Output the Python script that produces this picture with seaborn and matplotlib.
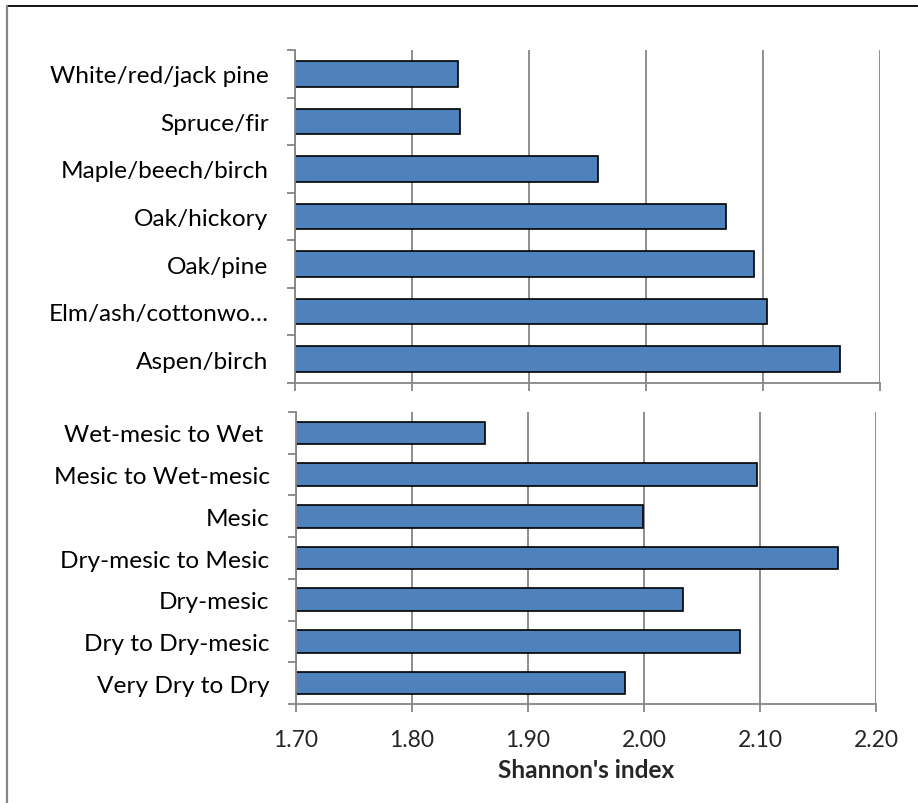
import matplotlib
matplotlib.use('Agg')
import matplotlib.pyplot as plt
from matplotlib.lines import Line2D
import seaborn as sns

# forest types (top panel), listed top to bottom
tipos_floresta = ['White/red/jack pine', 'Spruce/fir', 'Maple/beech/birch', 'Oak/hickory',
                  'Oak/pine', 'Elm/ash/cottonwo\u2026', 'Aspen/birch']
shannon_floresta = [1.839, 1.841, 1.959, 2.068, 2.092, 2.103, 2.166]

# moisture classes (bottom panel), listed top to bottom
umidade = ['Wet-mesic to Wet ', 'Mesic to Wet-mesic', 'Mesic', 'Dry-mesic to Mesic',
           'Dry-mesic', 'Dry to Dry-mesic', 'Very Dry to Dry']
shannon_umidade = [1.863, 2.097, 1.999, 2.167, 2.034, 2.083, 1.984]

x_ticks = [1.70, 1.80, 1.90, 2.00, 2.10, 2.20]

sns.set_style('white')
plt.rcParams['font.family'] = ['Lato', 'DejaVu Sans']

cinza = '#868686'
azul = '#4F81BD'
W, H = 918, 804

fig = plt.figure(figsize=(W / 100, H / 100), dpi=100)

def painel(ax, cats, vals, mostrar_labels):
    sns.barplot(x=vals, y=cats, ax=ax, color=azul, saturation=1, edgecolor='black',
                linewidth=1.2, width=0.54, orient='h')
    ax.set_xlim(1.70, 2.20)
    ax.set_ylim(len(cats) - 0.5, -0.5)
    ax.set_xticks(x_ticks)
    ax.set_xticklabels([f'{t:.2f}' for t in x_ticks])
    ax.set_yticks(range(len(cats)))
    ax.set_yticklabels(cats)
    ax.set_yticks([i - 0.5 for i in range(len(cats) + 1)], minor=True)
    ax.tick_params(axis='y', which='major', length=0, pad=19, labelsize=17.6, colors='black')
    ax.tick_params(axis='y', which='minor', length=6, width=1.3, color=cinza, direction='out', left=True)
    ax.tick_params(axis='x', length=6, width=1.3, color=cinza, direction='out', bottom=True,
                   pad=12, labelsize=16.5, labelbottom=mostrar_labels)
    ax.xaxis.grid(True, color=cinza, linewidth=1.3)
    ax.yaxis.grid(False)
    ax.set_axisbelow(True)
    for s in ['top', 'right']:
        ax.spines[s].set_visible(False)
    for s in ['left', 'bottom']:
        ax.spines[s].set_color(cinza)
        ax.spines[s].set_linewidth(1.3)
    ax.set_ylabel('')
    ax.set_xlabel('')

ax1 = fig.add_axes([295 / W, 1 - 384 / H, (880 - 295) / W, (384 - 51) / H])
painel(ax1, tipos_floresta, shannon_floresta, False)

ax2 = fig.add_axes([296 / W, 1 - 705 / H, (876 - 296) / W, (705 - 413) / H])
painel(ax2, umidade, shannon_umidade, True)
ax2.set_xlabel("Shannon's index", fontsize=17.6, fontweight='bold', labelpad=6)

# borda externa (recortada)
fig.add_artist(Line2D([7 / W, 1], [1 - 7 / H, 1 - 7 / H], color='black', linewidth=1.3,
                      transform=fig.transFigure))
fig.add_artist(Line2D([7 / W, 7 / W], [0, 1 - 7 / H], color=cinza, linewidth=1.6,
                      transform=fig.transFigure))

fig.savefig('out.png', dpi=100)
